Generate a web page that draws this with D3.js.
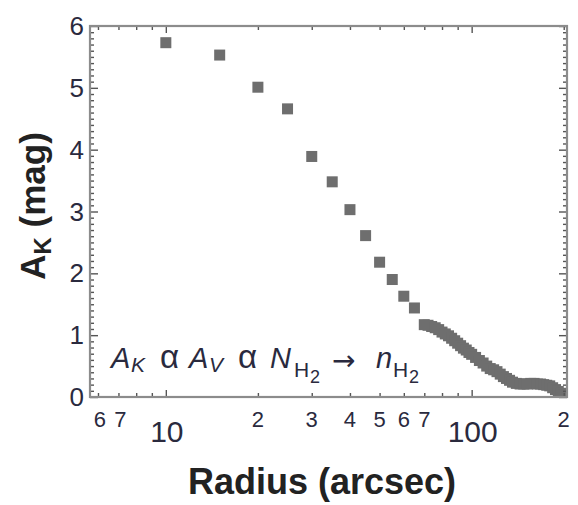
<!DOCTYPE html>
<html>
<head>
<meta charset="utf-8">
<script src="https://cdn.jsdelivr.net/npm/d3@7"></script>
<style>
  body { margin: 0; background: #fff; }
  svg { display: block; }
  text { font-family: "Liberation Sans", Arial, sans-serif; }
</style>
</head>
<body>
<svg id="chart" width="578" height="505"></svg>
<script>
// radius in arcsec, A_K in mag
const radius = [10, 15, 20, 25, 30, 35, 40, 45, 50, 55, 60, 65,
  70, 72, 74, 76, 78, 80, 82, 84, 86, 88, 90, 92, 94, 96, 98, 100,
  103, 106, 109, 112, 115, 118, 121, 124, 127, 130, 133, 136, 140, 144,
  148, 152, 156, 160, 164, 168, 172, 176, 180, 184, 188, 192, 196, 200];
const extinction = [5.73, 5.53, 5.01, 4.66, 3.89, 3.48, 3.03, 2.61, 2.18, 1.90, 1.63, 1.44,
  1.17, 1.16, 1.14, 1.12, 1.09, 1.05, 1.02, 0.99, 0.95, 0.91, 0.87, 0.83, 0.79, 0.76, 0.72, 0.69,
  0.64, 0.59, 0.55, 0.50, 0.46, 0.44, 0.41, 0.37, 0.33, 0.30, 0.27, 0.24, 0.22, 0.21,
  0.21, 0.21, 0.22, 0.22, 0.21, 0.21, 0.20, 0.19, 0.18, 0.15, 0.12, 0.09, 0.06, 0.03];

// ticks
const xMinorTicks = [6, 7, 8, 9, 20, 30, 40, 50, 60, 70, 80, 90, 200];
const xMajorTicks = [10, 100];
const xSmallTicks = [6, 7, 20, 30, 40, 50, 60, 70, 200];
const xSmallLabels = ["6", "7", "2", "3", "4", "5", "6", "7", "2"];
const xBigLabels = ["10", "100"];
const yTicks = [0, 1, 2, 3, 4, 5, 6];

const svg = d3.select('#chart');
const plotLeft = 90, plotRight = 567, plotTop = 26, plotBottom = 397;

const x = d3.scaleLog().domain([5.65, 205]).range([plotLeft, plotRight]);
const y = d3.scaleLinear().domain([0, 6]).range([plotBottom, plotTop]);

const yMinor = d3.range(0, 60).map(d => d / 10).filter(d => d % 1 !== 0);

//CLIP + SOFTEN (the reference is a slightly blurry scan)
const defs = svg.append('defs');
defs.append('clipPath').attr('id', 'plot-clip')
  .append('rect')
  .attr('x', plotLeft).attr('y', plotTop)
  .attr('width', plotRight - plotLeft).attr('height', plotBottom - plotTop);
defs.append('filter').attr('id', 'soft')
  .append('feGaussianBlur').attr('stdDeviation', 0.7);

//POINTS
const pts = radius.map((r, i) => ({ r: r, a: extinction[i] }));
const sz = 11;
svg.append('g')
  .attr('clip-path', 'url(#plot-clip)')
  .append('g')
  .attr('filter', 'url(#soft)')
  .selectAll('rect')
  .data(pts)
  .enter().append('rect')
  .attr('x', d => x(d.r) - sz / 2)
  .attr('y', d => y(d.a) - sz / 2)
  .attr('width', sz)
  .attr('height', sz)
  .attr('fill', '#6e6e6e');

//TICKS ON ALL FOUR SIDES, POINTING IN
const tickColor = '#555';
const drawTicks = (axis, tx, ty) => {
  const g = svg.append('g').attr('transform', `translate(${tx},${ty})`).call(axis);
  g.select('.domain').remove();
  g.selectAll('line').attr('stroke', tickColor).attr('stroke-width', 1.4);
  g.selectAll('text').remove();
};
drawTicks(d3.axisBottom(x).tickValues(xMinorTicks).tickSize(-4), 0, plotBottom);
drawTicks(d3.axisBottom(x).tickValues(xMajorTicks).tickSize(-7), 0, plotBottom);
drawTicks(d3.axisTop(x).tickValues(xMinorTicks).tickSize(-4), 0, plotTop);
drawTicks(d3.axisTop(x).tickValues(xMajorTicks).tickSize(-7), 0, plotTop);
drawTicks(d3.axisLeft(y).tickValues(yMinor).tickSize(-4), plotLeft, 0);
drawTicks(d3.axisLeft(y).tickValues(yTicks).tickSize(-8), plotLeft, 0);
drawTicks(d3.axisRight(y).tickValues(yMinor).tickSize(-4), plotRight, 0);
drawTicks(d3.axisRight(y).tickValues(yTicks).tickSize(-8), plotRight, 0);

//FRAME
svg.append('rect')
  .attr('x', plotLeft).attr('y', plotTop)
  .attr('width', plotRight - plotLeft).attr('height', plotBottom - plotTop)
  .attr('fill', 'none')
  .attr('stroke', '#8c8c8c')
  .attr('stroke-width', 2.2);

//TICK LABELS
const labelColor = '#2a2a3e';
svg.append('g').selectAll('text')
  .data(yTicks)
  .enter().append('text')
  .attr('x', plotLeft - 6)
  .attr('y', d => y(d) + 9)
  .attr('text-anchor', 'end')
  .attr('font-size', 26)
  .attr('fill', labelColor)
  .text(d => d);

svg.append('g').selectAll('text')
  .data(xSmallTicks)
  .enter().append('text')
  .attr('x', (d, i) => x(d) + (i < 2 ? 2 : 0))
  .attr('y', 427)
  .attr('text-anchor', 'middle')
  .attr('font-size', 22)
  .attr('fill', labelColor)
  .text((d, i) => xSmallLabels[i]);

svg.append('g').selectAll('text')
  .data(xMajorTicks)
  .enter().append('text')
  .attr('x', d => x(d) + 1)
  .attr('y', 442)
  .attr('text-anchor', 'middle')
  .attr('font-size', 30)
  .attr('fill', labelColor)
  .text((d, i) => xBigLabels[i]);

//AXIS TITLES
svg.append('text')
  .attr('x', 322)
  .attr('y', 494)
  .attr('text-anchor', 'middle')
  .attr('font-size', 36)
  .attr('font-weight', 'bold')
  .attr('fill', '#222')
  .text('Radius (arcsec)');

const yTitle = svg.append('text')
  .attr('transform', 'translate(45,206) rotate(-90)')
  .attr('text-anchor', 'middle')
  .attr('font-size', 35)
  .attr('font-weight', 'bold')
  .attr('fill', '#222');
yTitle.append('tspan').text('A');
yTitle.append('tspan').attr('font-size', 24).attr('dy', 6).text('K');
yTitle.append('tspan').attr('dy', -6).text(' (mag)');

//ANNOTATION  A_K α A_V α N_H2 → n_H2
const noteParts = [
  { t: 'A', x: 111, y: 368, s: 29, i: true },
  { t: 'K', x: 131, y: 372, s: 21, i: true },
  { t: 'α', x: 160, y: 368, s: 33 },
  { t: 'A', x: 189, y: 368, s: 29, i: true },
  { t: 'V', x: 209, y: 372, s: 21, i: true },
  { t: 'α', x: 238, y: 368, s: 33 },
  { t: 'N', x: 270, y: 368, s: 29, i: true },
  { t: 'H', x: 294, y: 377, s: 21 },
  { t: '2', x: 310, y: 383, s: 18 },
  { t: '→', x: 332, y: 370, s: 28, f: 'DejaVu Sans' },
  { t: 'n', x: 376, y: 368, s: 29, i: true },
  { t: 'H', x: 393, y: 377, s: 21 },
  { t: '2', x: 409, y: 383, s: 18 }
];
svg.append('g').selectAll('text')
  .data(noteParts)
  .enter().append('text')
  .attr('x', d => d.x)
  .attr('y', d => d.y)
  .attr('font-size', d => d.s)
  .attr('font-style', d => d.i ? 'italic' : 'normal')
  .style('font-family', d => d.f || null)
  .attr('fill', labelColor)
  .text(d => d.t);
</script>
</body>
</html>
